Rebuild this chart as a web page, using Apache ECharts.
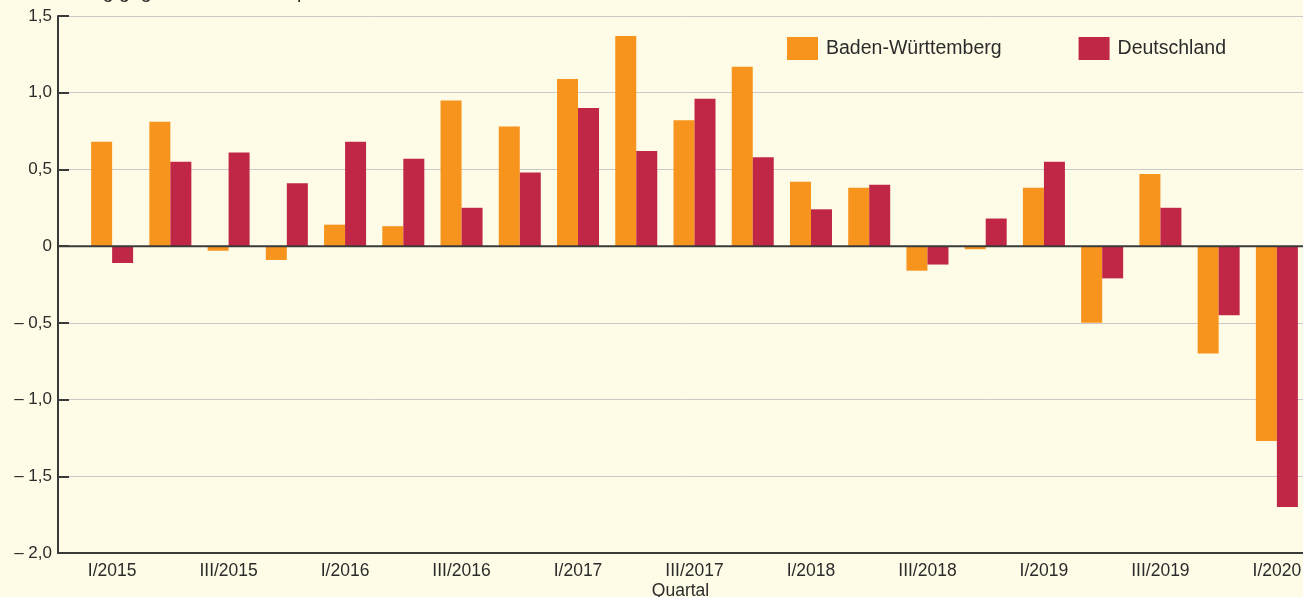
<!DOCTYPE html>
<html>
<head>
<meta charset="utf-8">
<style>
  html, body { margin: 0; padding: 0; background: #fefce6; }
  #chart { width: 1303px; height: 597px; }
</style>
<script src="https://cdn.jsdelivr.net/npm/echarts@6/dist/echarts.min.js"></script>
</head>
<body>
<div id="chart"></div>
<script>
// Quartale I/2015 bis I/2020
const quarters = [
  'I/2015', 'II/2015', 'III/2015', 'IV/2015',
  'I/2016', 'II/2016', 'III/2016', 'IV/2016',
  'I/2017', 'II/2017', 'III/2017', 'IV/2017',
  'I/2018', 'II/2018', 'III/2018', 'IV/2018',
  'I/2019', 'II/2019', 'III/2019', 'IV/2019',
  'I/2020'
]
// Veränderung gegenüber dem Vorquartal in %
const badenWuerttemberg = [
  0.68, 0.81, -0.03, -0.09,
  0.14, 0.13, 0.95, 0.78,
  1.09, 1.37, 0.82, 1.17,
  0.42, 0.38, -0.16, -0.02,
  0.38, -0.50, 0.47, -0.70,
  -1.27
]
const deutschland = [
  -0.11, 0.55, 0.61, 0.41,
  0.68, 0.57, 0.25, 0.48,
  0.90, 0.62, 0.96, 0.58,
  0.24, 0.40, -0.12, 0.18,
  0.55, -0.21, 0.25, -0.45,
  -1.70
]
const yMin = -2.0
const yMax = 1.5
const yStep = 0.5

const textColor = '#2b2b2b'
const fontFamily = '"Liberation Sans", Arial, sans-serif'

function fmtTick(v) {
  if (Math.abs(v) < 1e-9) return '0'
  const s = Math.abs(v).toFixed(1).replace('.', ',')
  return v < 0 ? '\u2013 ' + s : s
}

const chart = echarts.init(document.getElementById('chart'))

const option = {
  backgroundColor: '#fefce6',
  animation: false,
  textStyle: { fontFamily: fontFamily, color: textColor },
  title: {
    text: 'Veränderung gegenüber dem Vorquartal in %',
    left: 2,
    top: -17,
    padding: 0,
    textStyle: { fontSize: 19.5, fontWeight: 'normal', color: textColor, fontFamily: fontFamily }
  },
  legend: {
    data: ['Baden-Württemberg', 'Deutschland'],
    left: 787,
    top: 37,
    padding: 0,
    itemWidth: 31,
    itemHeight: 23,
    itemGap: 77,
    icon: 'rect',
    textStyle: { fontSize: 19.5, color: textColor, padding: [0, 0, 0, 3] }
  },
  grid: [
    { left: 58, right: 0, top: 16, bottom: 44, outerBoundsMode: 'none', containLabel: false },
    { left: 83, right: -3, top: 16, bottom: 44, outerBoundsMode: 'none', containLabel: false }
  ],
  xAxis: [
    {
      gridIndex: 0,
      type: 'value',
      min: 0,
      max: 1,
      axisLine: { show: true, onZero: false, lineStyle: { color: '#3a3a3a', width: 2 } },
      axisTick: { show: false },
      axisLabel: { show: false },
      splitLine: { show: false },
      name: 'Quartal',
      nameLocation: 'middle',
      nameGap: 29,
      nameTextStyle: { fontSize: 17.5, color: textColor, fontFamily: fontFamily }
    },
    {
      gridIndex: 1,
      type: 'category',
      data: quarters,
      axisLine: { show: false },
      axisTick: { show: false },
      axisLabel: {
        interval: 1,
        fontSize: 17.5,
        margin: 9,
        color: textColor
      }
    }
  ],
  yAxis: [
    {
      gridIndex: 0,
      type: 'value',
      min: yMin,
      max: yMax,
      interval: yStep,
      axisLine: { show: true, onZero: false, lineStyle: { color: '#3a3a3a', width: 2 } },
      axisTick: { show: true, inside: true, length: 11, lineStyle: { color: '#3a3a3a', width: 2 } },
      axisLabel: { formatter: fmtTick, fontSize: 17, color: textColor, margin: 6 },
      splitLine: { show: true, lineStyle: { color: '#c9c9c9', width: 1 } }
    },
    {
      gridIndex: 1,
      type: 'value',
      min: yMin,
      max: yMax,
      interval: yStep,
      show: false
    }
  ],
  series: [
    {
      name: 'Baden-Württemberg',
      type: 'bar',
      xAxisIndex: 1,
      yAxisIndex: 1,
      data: badenWuerttemberg,
      barWidth: 21,
      barGap: '0%',
      itemStyle: { color: '#f7941d' }
    },
    {
      name: 'Deutschland',
      type: 'bar',
      xAxisIndex: 1,
      yAxisIndex: 1,
      data: deutschland,
      barWidth: 21,
      barGap: '0%',
      itemStyle: { color: '#c02646' }
    },
    {
      // Nulllinie über den Balken
      name: 'null',
      type: 'line',
      xAxisIndex: 0,
      yAxisIndex: 0,
      data: [[0, 0], [1, 0]],
      symbol: 'none',
      silent: true,
      z: 5,
      lineStyle: { color: '#3a3a3a', width: 2 }
    }
  ]
}

chart.setOption(option)
</script>
</body>
</html>
